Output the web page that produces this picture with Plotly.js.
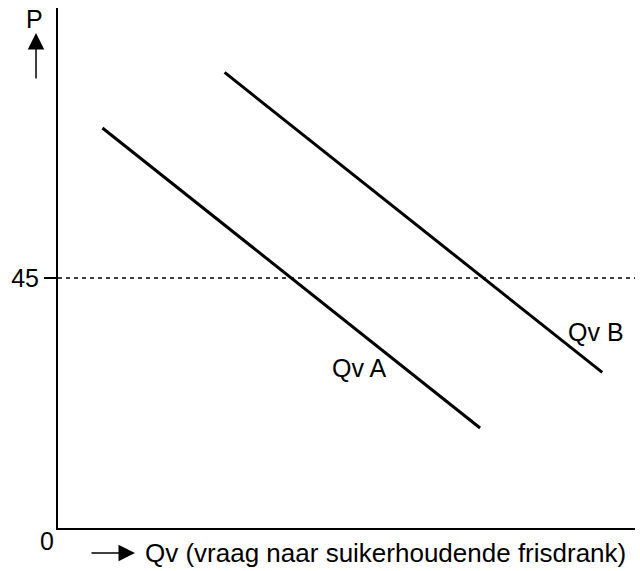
<!DOCTYPE html>
<html>
<head>
<meta charset="utf-8">
<script src="https://cdn.plot.ly/plotly-3.0.1.min.js"></script>
<style>html,body{margin:0;padding:0;background:#fff;}#chart{width:640px;height:571px;}</style>
</head>
<body>
<div id="chart"></div>
<script>
// Data (arbitrary quantity units, price units)
const qvA_x = [8, 76];
const qvA_y = [72, 18];
const qvB_x = [30, 98];
const qvB_y = [82, 28];
const priceLevel = 45;
const xRange = [0, 103.9];
const yRange = [0, 93.6];
const yTickVals = [45];
const yTickText = ['45'];
const labelA = 'Qv A';
const labelB = 'Qv B';
const xTitle = 'Qv (vraag naar suikerhoudende frisdrank)';
const yTitle = 'P';
const originLabel = '0';

const fam = 'Liberation Sans, Arial, sans-serif';
const f = (s) => ({family: fam, size: s, color: '#000'});

const traces = [
  {x: xRange, y: [priceLevel, priceLevel], mode: 'lines', line: {color: '#000', width: 1.4, dash: '4px,4px'}, hoverinfo: 'skip'},
  {x: qvA_x, y: qvA_y, mode: 'lines', line: {color: '#000', width: 3}, hoverinfo: 'skip'},
  {x: qvB_x, y: qvB_y, mode: 'lines', line: {color: '#000', width: 3}, hoverinfo: 'skip'}
];

const layout = {
  width: 640, height: 571,
  margin: {l: 58, r: 5, t: 8, b: 43},
  paper_bgcolor: '#fff', plot_bgcolor: '#fff',
  showlegend: false,
  font: f(20),
  xaxis: {range: xRange, showline: true, linecolor: '#000', linewidth: 2, showgrid: false, zeroline: false, showticklabels: false, ticks: '', fixedrange: true},
  yaxis: {range: yRange, showline: true, linecolor: '#000', linewidth: 2, showgrid: false, zeroline: false,
          tickvals: yTickVals, ticktext: yTickText, ticks: 'outside', ticklen: 12, tickwidth: 1.5, tickcolor: '#000',
          tickfont: f(25), fixedrange: true},
  annotations: [
    {x: 54.3, y: 28.8, xref: 'x', yref: 'y', text: labelA, showarrow: false, xanchor: 'center', yanchor: 'middle', font: f(25)},
    {x: 96.9, y: 35.2, xref: 'x', yref: 'y', text: labelB, showarrow: false, xanchor: 'center', yanchor: 'middle', font: f(25)},
    {x: -0.0182, y: -0.025, xref: 'paper', yref: 'paper', text: originLabel, showarrow: false, xanchor: 'center', yanchor: 'middle', font: f(25)},
    {x: -0.0399, y: 0.9798, xref: 'paper', yref: 'paper', text: yTitle, showarrow: false, xanchor: 'center', yanchor: 'middle', font: f(25)},
    {x: -0.0381, y: 0.9519, xref: 'paper', yref: 'paper', text: '', showarrow: true, ax: 0, ay: 47, arrowhead: 2, arrowsize: 2.2, arrowwidth: 1.5, arrowcolor: '#000'},
    {x: 0.1334, y: -0.048, xref: 'paper', yref: 'paper', text: '', showarrow: true, ax: -45, ay: 0, arrowhead: 2, arrowsize: 2.2, arrowwidth: 1.5, arrowcolor: '#000'},
    {x: 0.1473, y: -0.048, xref: 'paper', yref: 'paper', text: xTitle, showarrow: false, xanchor: 'left', yanchor: 'middle', font: f(26)}
  ]
};

Plotly.newPlot('chart', traces, layout, {staticPlot: true, displayModeBar: false});
</script>
</body>
</html>
